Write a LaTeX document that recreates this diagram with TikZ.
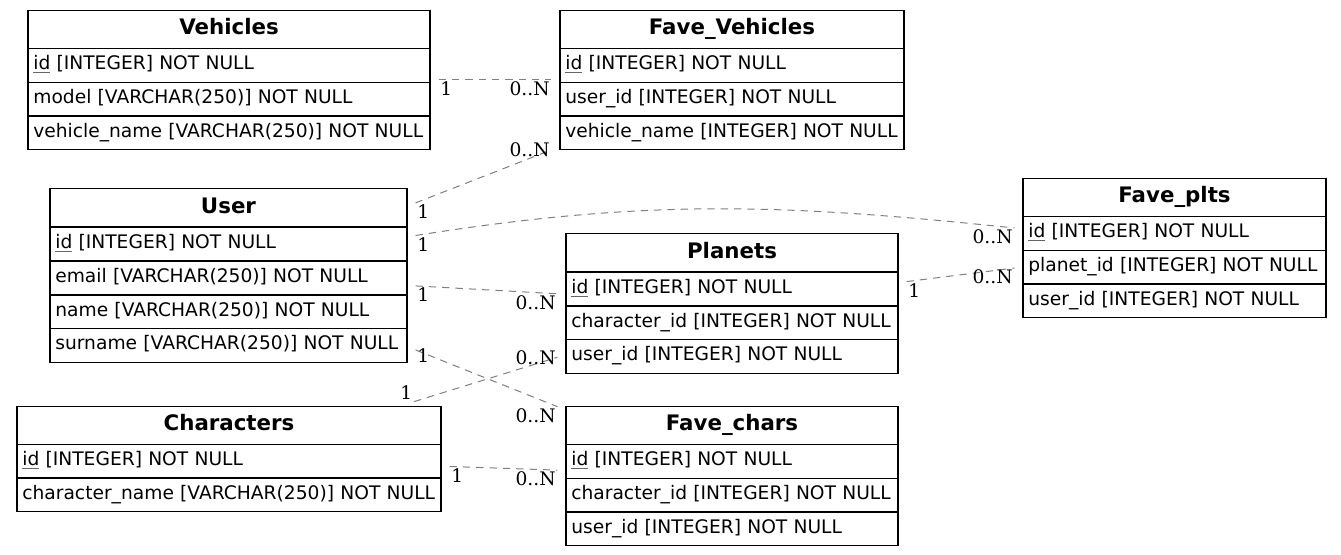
\documentclass[tikz,border=0pt]{standalone}
\usepackage{fontspec}
\setmainfont{DejaVu Sans}
\newfontfamily\cardfont{DejaVu Serif}
\usetikzlibrary{matrix}

% primary key: thin grey underline
\newcommand\pkey[1]{\setbox0\hbox{#1}\rlap{\raisebox{-2.6pt}{\color{black!60}\rule{\wd0}{0.6pt}}}\box0\relax}

\tikzset{
    table/.style={matrix of nodes, inner sep=0pt, outer xsep=6pt, outer ysep=3pt,
        row sep=-\pgflinewidth,
        nodes={draw, line width=0.8pt, anchor=center, inner xsep=4pt, inner ysep=0pt,
            outer sep=0pt, text width=#1, align=left, minimum height=25pt,
            text height=10.5pt, text depth=4pt, font=\fontsize{14}{16}\selectfont}},
    head/.style={align=center, minimum height=28.5pt, text height=12pt, text depth=3.5pt,
        font=\bfseries\fontsize{16}{18}\selectfont},
    rel/.style={black!50, line width=0.75pt, dash pattern=on 5.5pt off 4.5pt},
    card/.style={font=\cardfont\fontsize{14}{16}\selectfont, text=black, inner sep=1pt}
}

\begin{document}
\begin{tikzpicture}[x=0.75pt, y=-0.75pt]
    \useasboundingbox (0,0) rectangle (1341,555);
    % tables
    \matrix (veh) [table=293.5pt] at (229,80) {
        |[head]| Vehicles \\
        \pkey{id} [INTEGER] NOT NULL \\
        model [VARCHAR(250)] NOT NULL \\
        vehicle\_name [VARCHAR(250)] NOT NULL \\};
    \matrix (favev) [table=250pt] at (732,80) {
        |[head]| Fave\_Vehicles \\
        \pkey{id} [INTEGER] NOT NULL \\
        user\_id [INTEGER] NOT NULL \\
        vehicle\_name [INTEGER] NOT NULL \\};
    \matrix (user) [table=259.75pt] at (228.5,275.5) {
        |[head]| User \\
        \pkey{id} [INTEGER] NOT NULL \\
        email [VARCHAR(250)] NOT NULL \\
        name [VARCHAR(250)] NOT NULL \\
        surname [VARCHAR(250)] NOT NULL \\};
    \matrix (chars) [table=310pt] at (229,459) {
        |[head]| Characters \\
        \pkey{id} [INTEGER] NOT NULL \\
        character\_name [VARCHAR(250)] NOT NULL \\};
    \matrix (plan) [table=241pt] at (732,303.5) {
        |[head]| Planets \\
        \pkey{id} [INTEGER] NOT NULL \\
        character\_id [INTEGER] NOT NULL \\
        user\_id [INTEGER] NOT NULL \\};
    \matrix (fchar) [table=241pt] at (732,476) {
        |[head]| Fave\_chars \\
        \pkey{id} [INTEGER] NOT NULL \\
        character\_id [INTEGER] NOT NULL \\
        user\_id [INTEGER] NOT NULL \\};
    \matrix (fplt) [table=219.25pt] at (1174.5,248) {
        |[head]| Fave\_plts \\
        \pkey{id} [INTEGER] NOT NULL \\
        planet\_id [INTEGER] NOT NULL \\
        user\_id [INTEGER] NOT NULL \\};

    % relations
    \draw [rel] (veh) -- node[card, pos=0, anchor=north west] {1}
        node[card, pos=1, anchor=north east] {0..N} (favev);
    \draw [rel] (user) -- node[card, pos=0, anchor=north west] {1}
        node[card, pos=1, anchor=east] {0..N} (favev);
    \draw [rel] ([yshift=30pt]user.east) to[out=9, in=174]
        node[card, pos=0, anchor=north west] {1}
        node[card, pos=1, anchor=north east] {0..N} ([yshift=15pt]fplt.west);
    \draw [rel] (user) -- node[card, pos=0, anchor=north west] {1}
        node[card, pos=1, anchor=north east] {0..N} (plan);
    \draw [rel] (user) -- node[card, pos=0, anchor=west, yshift=-4pt] {1}
        node[card, pos=1, anchor=north east] {0..N} (fchar);
    \draw [rel] (chars) -- node[card, pos=0, anchor=south east] {1}
        node[card, pos=1, anchor=east] {0..N} (plan);
    \draw [rel] (chars) -- node[card, pos=0, anchor=north west] {1}
        node[card, pos=1, anchor=north east] {0..N} (fchar);
    \draw [rel] (plan) -- node[card, pos=0, anchor=north west] {1}
        node[card, pos=1, anchor=north east] {0..N} (fplt);
\end{tikzpicture}
\end{document}
